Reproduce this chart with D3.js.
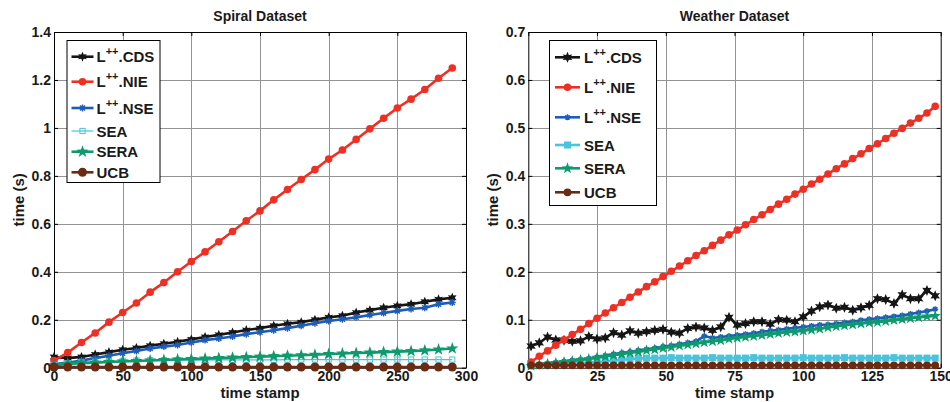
<!DOCTYPE html>
<html>
<head>
<meta charset="utf-8">
<script src="https://cdn.jsdelivr.net/npm/d3@7"></script>
<style>
  body { margin: 0; background: #fff; }
  svg { display: block; font-family: 'Liberation Sans', Arial, sans-serif; font-weight: bold; }
</style>
</head>
<body>
<div id="chart"></div>
<script>
// ---- data ----
const seriesKeys = ['CDS', 'NIE', 'NSE', 'SEA', 'SERA', 'UCB'];
const seriesColors = ['#151515', '#ee3024', '#1f5cb8', '#4ac3dc', '#0e9a6c', '#6b2a12'];

const spiralX = [0, 10, 20, 30, 40, 50, 60, 70, 80, 90, 100, 110, 120, 130, 140,
    150, 160, 170, 180, 190, 200, 210, 220, 230, 240, 250, 260, 270, 280, 290];
const spiralCDS = [0.045, 0.04, 0.045, 0.055, 0.065, 0.075, 0.082, 0.092, 0.1, 0.108,
    0.118, 0.128, 0.137, 0.147, 0.157, 0.165, 0.175, 0.183, 0.19, 0.2,
    0.21, 0.217, 0.23, 0.24, 0.25, 0.258, 0.265, 0.275, 0.285, 0.292];
const spiralNIE = [0.03, 0.063, 0.105, 0.145, 0.19, 0.23, 0.27, 0.315, 0.355, 0.4,
    0.443, 0.483, 0.525, 0.568, 0.613, 0.654, 0.7, 0.743, 0.785, 0.826,
    0.87, 0.908, 0.952, 0.996, 1.04, 1.083, 1.12, 1.16, 1.207, 1.25];
const spiralNSE = [0.015, 0.02, 0.03, 0.04, 0.05, 0.06, 0.07, 0.08, 0.088, 0.095,
    0.105, 0.115, 0.122, 0.13, 0.14, 0.148, 0.156, 0.165, 0.175, 0.185,
    0.195, 0.202, 0.21, 0.22, 0.228, 0.237, 0.245, 0.25, 0.265, 0.272];
const spiralSEA = [0.012, 0.018, 0.022, 0.025, 0.027, 0.029, 0.03, 0.031, 0.031, 0.032,
    0.032, 0.032, 0.033, 0.033, 0.033, 0.033, 0.033, 0.034, 0.034, 0.034,
    0.034, 0.034, 0.034, 0.034, 0.034, 0.034, 0.034, 0.034, 0.034, 0.034];
const spiralSERA = [0.01, 0.016, 0.019, 0.021, 0.024, 0.026, 0.028, 0.03, 0.032, 0.034,
    0.036, 0.038, 0.04, 0.042, 0.044, 0.046, 0.048, 0.05, 0.052, 0.054,
    0.057, 0.059, 0.061, 0.063, 0.065, 0.067, 0.069, 0.072, 0.076, 0.08];
const spiralUCB = [0.003, 0.003, 0.003, 0.003, 0.003, 0.003, 0.003, 0.003, 0.003, 0.003,
    0.003, 0.003, 0.003, 0.003, 0.003, 0.003, 0.003, 0.003, 0.003, 0.003,
    0.003, 0.003, 0.003, 0.003, 0.003, 0.003, 0.003, 0.003, 0.003, 0.003];

const weatherX = [1, 4, 7, 10, 13, 16, 19, 22, 25, 28, 31, 34, 37, 40, 43, 46, 49, 52, 55, 58,
    61, 64, 67, 70, 73, 76, 79, 82, 85, 88, 91, 94, 97, 100, 103, 106, 109, 112, 115, 118,
    121, 124, 127, 130, 133, 136, 139, 142, 145, 148];
const weatherCDS = [0.045, 0.052, 0.064, 0.058, 0.057, 0.055, 0.056, 0.065, 0.06, 0.062,
    0.073, 0.068, 0.077, 0.072, 0.075, 0.078, 0.08, 0.074, 0.072, 0.082,
    0.085, 0.083, 0.078, 0.085, 0.105, 0.089, 0.092, 0.096, 0.096, 0.091,
    0.1, 0.099, 0.096, 0.106, 0.118, 0.127, 0.131, 0.124, 0.126, 0.12,
    0.125, 0.13, 0.144, 0.142, 0.134, 0.152, 0.144, 0.144, 0.161, 0.15];
const weatherNIE = [0.012, 0.024, 0.035, 0.047, 0.058, 0.069, 0.08, 0.092, 0.103, 0.114,
    0.125, 0.136, 0.147, 0.158, 0.169, 0.179, 0.19, 0.201, 0.212, 0.223,
    0.234, 0.244, 0.255, 0.266, 0.277, 0.287, 0.298, 0.309, 0.319, 0.33,
    0.341, 0.351, 0.362, 0.372, 0.383, 0.393, 0.404, 0.415, 0.425, 0.436,
    0.446, 0.457, 0.467, 0.478, 0.489, 0.499, 0.51, 0.52, 0.531, 0.545];
const weatherNSE = [0.005, 0.007, 0.009, 0.011, 0.013, 0.015, 0.017, 0.019, 0.022, 0.025,
    0.028, 0.031, 0.033, 0.036, 0.038, 0.041, 0.044, 0.046, 0.049, 0.052,
    0.055, 0.066, 0.062, 0.064, 0.066, 0.068, 0.07, 0.072, 0.075, 0.077,
    0.079, 0.081, 0.083, 0.085, 0.087, 0.089, 0.09, 0.092, 0.094, 0.096,
    0.099, 0.101, 0.103, 0.105, 0.107, 0.109, 0.112, 0.115, 0.118, 0.122];
const weatherSEA = [0.004, 0.005, 0.006, 0.007, 0.008, 0.009, 0.01, 0.011, 0.012, 0.013,
    0.015, 0.016, 0.018, 0.019, 0.02, 0.02, 0.02, 0.021, 0.02, 0.02,
    0.02, 0.02, 0.021, 0.02, 0.02, 0.02, 0.02, 0.021, 0.02, 0.02,
    0.02, 0.02, 0.02, 0.021, 0.02, 0.02, 0.02, 0.02, 0.021, 0.02,
    0.02, 0.02, 0.02, 0.02, 0.021, 0.02, 0.02, 0.02, 0.02, 0.02];
const weatherSERA = [0.004, 0.006, 0.008, 0.01, 0.012, 0.014, 0.016, 0.018, 0.021, 0.023,
    0.026, 0.028, 0.031, 0.033, 0.036, 0.038, 0.041, 0.043, 0.046, 0.048,
    0.05, 0.053, 0.055, 0.057, 0.06, 0.062, 0.064, 0.066, 0.068, 0.07,
    0.072, 0.074, 0.075, 0.077, 0.079, 0.081, 0.084, 0.086, 0.088, 0.09,
    0.092, 0.094, 0.095, 0.097, 0.099, 0.101, 0.103, 0.105, 0.107, 0.108];
const weatherUCB = [0.005, 0.005, 0.005, 0.005, 0.005, 0.005, 0.005, 0.005, 0.005, 0.005,
    0.005, 0.005, 0.005, 0.005, 0.005, 0.005, 0.005, 0.005, 0.005, 0.005,
    0.005, 0.005, 0.005, 0.005, 0.005, 0.005, 0.005, 0.005, 0.005, 0.005,
    0.005, 0.005, 0.005, 0.005, 0.005, 0.005, 0.005, 0.005, 0.005, 0.005,
    0.005, 0.005, 0.005, 0.005, 0.005, 0.005, 0.005, 0.005, 0.005, 0.005];

const spiralXTicks = [0, 50, 100, 150, 200, 250, 300];
const spiralYTicks = [0, 0.2, 0.4, 0.6, 0.8, 1, 1.2, 1.4];
const weatherXTicks = [0, 25, 50, 75, 100, 125, 150];
const weatherYTicks = [0, 0.1, 0.2, 0.3, 0.4, 0.5, 0.6, 0.7];

// ---- marker shapes ----
function starPath(points, r, inner) {
    const pts = [];
    for (let i = 0; i < points * 2; i++) {
        const rr = i % 2 === 0 ? r : r * inner;
        const a = -Math.PI / 2 + i * Math.PI / points;
        pts.push([rr * Math.cos(a), rr * Math.sin(a)]);
    }
    return 'M' + pts.map(p => p[0].toFixed(2) + ',' + p[1].toFixed(2)).join('L') + 'Z';
}

function drawMarker(g, type, r, color, cx, cy) {
    const t = `translate(${cx},${cy})`;
    if (type === 'hex') {
        g.append('path').attr('transform', t).attr('d', starPath(6, r, 0.5)).attr('fill', color);
    } else if (type === 'circle') {
        g.append('circle').attr('cx', cx).attr('cy', cy).attr('r', r).attr('fill', color);
    } else if (type === 'asterisk') {
        const d = r * 0.72;
        g.append('path').attr('transform', t)
            .attr('d', `M0,${-r}L0,${r}M${-r},0L${r},0M${-d},${-d}L${d},${d}M${-d},${d}L${d},${-d}`)
            .attr('stroke', color).attr('stroke-width', 1.4).attr('fill', 'none');
    } else if (type === 'squareOpen') {
        g.append('rect').attr('x', cx - r).attr('y', cy - r).attr('width', 2 * r).attr('height', 2 * r)
            .attr('fill', 'none').attr('stroke', color).attr('stroke-width', 1);
    } else if (type === 'square') {
        g.append('rect').attr('x', cx - r).attr('y', cy - r).attr('width', 2 * r).attr('height', 2 * r)
            .attr('fill', color);
    } else if (type === 'penta') {
        g.append('path').attr('transform', t).attr('d', starPath(5, r, 0.4)).attr('fill', color);
    }
}

const svg = d3.select('#chart').append('svg')
    .attr('width', 950)
    .attr('height', 402);

function drawPanel(cfg) {
    const x = d3.scaleLinear().domain(cfg.xDomain).range([cfg.left, cfg.right]);
    const y = d3.scaleLinear().domain(cfg.yDomain).range([cfg.bottom, cfg.top]);
    const g = svg.append('g');

    // white plot area
    g.append('rect')
        .attr('x', cfg.left).attr('y', cfg.top)
        .attr('width', cfg.right - cfg.left).attr('height', cfg.bottom - cfg.top)
        .attr('fill', '#fff');

    // grid lines
    g.append('g').selectAll('line')
        .data(cfg.xTicks.slice(1, -1))
        .enter().append('line')
        .attr('x1', d => Math.round(x(d)) + 0.5).attr('x2', d => Math.round(x(d)) + 0.5)
        .attr('y1', cfg.top).attr('y2', cfg.bottom)
        .attr('stroke', '#939393').attr('stroke-width', 1);
    g.append('g').selectAll('line')
        .data(cfg.yTicks.slice(1, -1))
        .enter().append('line')
        .attr('x1', cfg.left).attr('x2', cfg.right)
        .attr('y1', d => Math.round(y(d)) + 0.5).attr('y2', d => Math.round(y(d)) + 0.5)
        .attr('stroke', '#939393').attr('stroke-width', 1);

    // axes (inward ticks on all sides, like a boxed plot)
    const styleAxis = a => a
        .call(s => s.select('.domain').attr('stroke', '#000'))
        .call(s => s.selectAll('.tick line').attr('stroke', '#000'))
        .call(s => s.selectAll('text').attr('font-size', '14px').attr('font-weight', 'bold')
            .attr('fill', '#1a1a1a').attr('font-family', "'Liberation Sans', Arial, sans-serif"));

    g.append('g').attr('transform', `translate(0,${cfg.bottom})`)
        .call(d3.axisBottom(x).tickValues(cfg.xTicks).tickSize(-4).tickSizeOuter(0).tickPadding(3)
            .tickFormat(d3.format('~g')))
        .call(styleAxis);
    g.append('g').attr('transform', `translate(${cfg.left},0)`)
        .call(d3.axisLeft(y).tickValues(cfg.yTicks).tickSize(-4).tickSizeOuter(0).tickPadding(3)
            .tickFormat(d3.format('~g')))
        .call(styleAxis);
    g.append('g').attr('transform', `translate(0,${cfg.top})`)
        .call(d3.axisTop(x).tickValues(cfg.xTicks).tickSize(-4).tickSizeOuter(0).tickFormat(''))
        .call(styleAxis);
    g.append('g').attr('transform', `translate(${cfg.right},0)`)
        .call(d3.axisRight(y).tickValues(cfg.yTicks).tickSize(-4).tickSizeOuter(0).tickFormat(''))
        .call(styleAxis);

    // series
    const line = d3.line().x(d => x(d[0])).y(d => y(d[1]));
    cfg.series.forEach((s, i) => {
        const pts = cfg.xValues.map((xv, j) => [xv, s[j]]);
        const st = cfg.styles[i];
        const sg = g.append('g');
        sg.append('path')
            .datum(pts)
            .attr('fill', 'none')
            .attr('stroke', seriesColors[i])
            .attr('stroke-width', st.lw)
            .attr('stroke-linejoin', 'round')
            .attr('d', line);
        pts.forEach(p => drawMarker(sg, st.marker, st.r, seriesColors[i], x(p[0]), y(p[1])));
    });

    // title & axis labels
    g.append('text')
        .attr('x', (cfg.left + cfg.right) / 2).attr('y', 21)
        .attr('text-anchor', 'middle').attr('font-size', '14px').attr('fill', '#1a1a1a')
        .text(cfg.title);
    g.append('text')
        .attr('x', (cfg.left + cfg.right) / 2).attr('y', 398)
        .attr('text-anchor', 'middle').attr('font-size', '15px').attr('fill', '#1a1a1a')
        .text('time stamp');
    g.append('text')
        .attr('transform', 'rotate(-90)')
        .attr('x', -(cfg.top + cfg.bottom) / 2).attr('y', cfg.left - 30)
        .attr('text-anchor', 'middle').attr('font-size', '15px').attr('fill', '#1a1a1a')
        .text('time (s)');

    // legend
    const lg = cfg.legend;
    const legend = g.append('g');
    legend.append('rect')
        .attr('x', lg.x + 0.5).attr('y', lg.y + 0.5)
        .attr('width', lg.w).attr('height', lg.h)
        .attr('fill', '#fff').attr('stroke', '#000').attr('stroke-width', 1);
    seriesKeys.forEach((k, i) => {
        const ry = lg.y + lg.rows[i];
        const st = cfg.styles[i];
        legend.append('line')
            .attr('x1', lg.x + lg.lineX[0]).attr('x2', lg.x + lg.lineX[1])
            .attr('y1', ry).attr('y2', ry)
            .attr('stroke', seriesColors[i]).attr('stroke-width', st.lw);
        drawMarker(legend, st.marker, st.r, seriesColors[i], lg.x + (lg.lineX[0] + lg.lineX[1]) / 2, ry);
        const t = legend.append('text')
            .attr('x', lg.x + lg.textX).attr('y', ry + 5.5)
            .attr('font-size', '15px').attr('fill', '#1a1a1a');
        if (i < 3) {
            t.append('tspan').text('L');
            t.append('tspan').attr('dy', -7).attr('font-size', '11px').text('++');
            t.append('tspan').attr('dy', 7).attr('font-size', '15px').text('.' + k);
        } else {
            t.text(k);
        }
    });
}

drawPanel({
    title: 'Spiral Dataset',
    left: 54, right: 466, top: 32, bottom: 367.7,
    xDomain: [0, 300], yDomain: [0, 1.4],
    xTicks: spiralXTicks, yTicks: spiralYTicks,
    xValues: spiralX,
    series: [spiralCDS, spiralNIE, spiralNSE, spiralSEA, spiralSERA, spiralUCB],
    styles: [
        {marker: 'hex', r: 5, lw: 2.6},
        {marker: 'circle', r: 3.8, lw: 2.6},
        {marker: 'asterisk', r: 3.5, lw: 2.6},
        {marker: 'squareOpen', r: 2.6, lw: 1.2},
        {marker: 'penta', r: 6.5, lw: 2.6},
        {marker: 'circle', r: 4.5, lw: 2.6}
    ],
    legend: {x: 66.5, y: 40, w: 93, h: 142, lineX: [5, 27], textX: 30,
        rows: [16.7, 41.7, 68, 91, 111.7, 132.3]}
});

drawPanel({
    title: 'Weather Dataset',
    left: 528.3, right: 940.7, top: 32, bottom: 367.7,
    xDomain: [0, 150], yDomain: [0, 0.7],
    xTicks: weatherXTicks, yTicks: weatherYTicks,
    xValues: weatherX,
    series: [weatherCDS, weatherNIE, weatherNSE, weatherSEA, weatherSERA, weatherUCB],
    styles: [
        {marker: 'hex', r: 5.5, lw: 2.6},
        {marker: 'circle', r: 3.8, lw: 2.6},
        {marker: 'asterisk', r: 3, lw: 2.6},
        {marker: 'square', r: 3.5, lw: 2.6},
        {marker: 'penta', r: 6, lw: 2.6},
        {marker: 'circle', r: 3.9, lw: 2.6}
    ],
    legend: {x: 549, y: 40, w: 107, h: 165, lineX: [6, 31], textX: 35,
        rows: [17.3, 47.3, 77.3, 105, 128.3, 152.3]}
});
</script>
</body>
</html>
